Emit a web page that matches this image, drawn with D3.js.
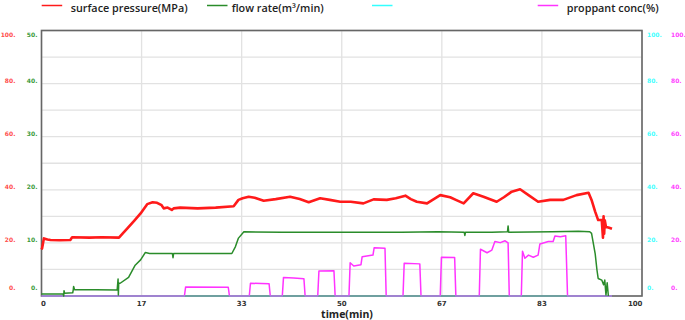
<!DOCTYPE html>
<html><head><meta charset="utf-8">
<script src="https://cdn.jsdelivr.net/npm/d3@7"></script>
<style>
html,body{margin:0;padding:0;background:#fff;}
svg{display:block;}
</style></head>
<body><svg id="c" width="685" height="320"></svg>
<script>
// ---- data ----
const legendLabels = ["surface pressure(MPa)", "flow rate(m³/min)", "", "proppant conc(%)"];
const seriesColors = ["#ff1a1a", "#2a8c2a", "#33ffff", "#ff33ff"];
const labelColors = ["#ff4d4d", "#3a9a3a", "#44ffff", "#ff44ff"];
const xTickLabels = ["0", "17", "33", "50", "67", "83", "100"];
const pressureTicks = ["0.", "20.", "40.", "60.", "80.", "100."];
const flowTicks = ["0.", "10.", "20.", "30.", "40.", "50."];
const cyanTicks = ["0.", "20.", "40.", "60.", "80.", "100."];
const proppantTicks = ["0.", "20.", "40.", "60.", "80.", "100."];
const xTitle = "time(min)";

const pressureTime = [0, 0.1, 0.4, 1.0, 1.5, 3, 4.8, 5.1, 8, 10, 12.9, 13.5, 14.3, 15.5, 16.5, 17.6, 18.5, 19.25, 20.0, 20.35, 21.0, 21.7, 22.0, 23.1, 26, 29, 32.0, 32.8, 33.5, 34.5, 35.5, 37.0, 39, 41.4, 43, 44.5, 46.4, 48, 49.75, 51.5, 53.6, 55.3, 57.5, 59, 60.6, 61.5, 62.5, 64.2, 66.4, 68.05, 69, 70.3, 71.9, 73.6, 75.8, 77, 78.3, 79.7, 81.1, 82.7, 84.7, 86.9, 89.1, 91.1, 91.6, 92.2, 92.7, 93.3, 93.5, 93.6, 93.7, 93.8, 94.0, 94.4, 95.0];
const pressureValue = [17.5, 18, 21.7, 21.3, 21.1, 21.0, 21.1, 22.1, 22.0, 22.1, 22.0, 23.5, 25.5, 28.5, 31.1, 34.6, 35.3, 35.1, 34.2, 33.0, 33.3, 32.4, 33.0, 33.3, 33.0, 33.3, 33.8, 36.2, 36.8, 37.4, 37.0, 35.9, 36.5, 37.4, 36.5, 35.3, 36.8, 36.2, 35.5, 35.5, 34.9, 36.4, 36.2, 36.8, 37.8, 36.5, 35.5, 34.9, 38.0, 37.2, 36.2, 34.9, 38.7, 37.4, 35.5, 37.2, 39.3, 40.2, 38.0, 35.5, 36.2, 36.2, 38.0, 38.9, 36.2, 31.8, 28.6, 28.6, 22, 30, 23.5, 28.5, 26, 25.8, 25.3];

const flowTime = [0, 0.1, 3.6, 3.7, 3.75, 3.85, 5.2, 5.3, 5.35, 5.5, 9, 12.6, 12.75, 12.8, 12.85, 12.9, 13.1, 14.5, 15.6, 16.5, 17.3, 18, 21.8, 21.9, 22.0, 26, 31.7, 32.3, 32.8, 33.7, 40, 50, 60, 66, 70.4, 70.5, 70.6, 75, 77.6, 77.7, 77.8, 85, 89.4, 91.3, 91.6, 92.2, 92.5, 92.7, 93.3, 93.6, 93.8, 94.0, 94.2, 94.4];
const flowValue = [0.3, 0.38, 0.4, 0.0, 1.0, 0.5, 0.6, 1.26, 1.8, 1.2, 1.2, 1.13, 3.2, 0.2, 2.2, 2.4, 2.4, 3.5, 5.8, 6.8, 8.2, 8.0, 8.0, 7.2, 8.0, 8.0, 8.0, 9.3, 10.9, 12.1, 12.0, 12.0, 12.0, 12.1, 12.0, 11.4, 12.0, 12.0, 12.1, 13.2, 12.0, 12.1, 12.2, 12.1, 11.8, 8.0, 4.9, 3.3, 3.0, 2.1, 3.0, 0.2, 2.5, 0];

const cyanTime = [0, 95];
const cyanValue = [0, 0];

const proppantTime = [0, 23.8, 24.0, 31.1, 31.3, 34.6, 34.8, 37.9, 38.1, 40.1, 40.3, 42, 43.7, 43.9, 46.0, 46.2, 48.7, 48.9, 51.2, 51.4, 52.0, 53.2, 53.4, 55.2, 55.4, 57.2, 57.4, 60.2, 60.4, 63.0, 63.2, 66.4, 66.6, 68.8, 69.0, 72.9, 73.1, 74.2, 75.0, 75.5, 76.4, 77.2, 77.7, 77.9, 79.9, 80.1, 80.5, 81.1, 81.9, 82.7, 83.0, 84.4, 85.2, 85.5, 86.4, 87.3, 87.6, 95];
const proppantValue = [0, 0, 3.4, 3.3, 0, 0, 4.8, 4.6, 0, 0, 7.0, 6.8, 6.5, 0, 0, 9.4, 9.5, 0, 0, 12.5, 11.3, 11.8, 14.8, 15.4, 18.2, 18.0, 0, 0, 12.3, 12.1, 0, 0, 14.6, 14.5, 0, 0, 17.6, 16.3, 17.3, 20.5, 20.1, 20.8, 20.0, 0, 0, 16.9, 14.2, 15.4, 14.6, 15.4, 19.6, 20.5, 20.5, 22.6, 22.3, 22.7, 0, 0];

// ---- layout ----
const L = 41.5, R = 642, T = 30.5, B = 296;
const svg = d3.select("#c");
const x = d3.scaleLinear().domain([0, 100]).range([L, R]);
const yP = d3.scaleLinear().domain([0, 100]).range([B, T]);
const yF = d3.scaleLinear().domain([0, 50]).range([B, T]);
const yC = d3.scaleLinear().domain([0, 100]).range([B, T]);
const yPr = d3.scaleLinear().domain([0, 100]).range([B, T]);

// grid
const hg = d3.range(0, 101, 10);
svg.append("g").selectAll("line").data(hg).join("line")
  .attr("x1", L).attr("x2", R).attr("y1", d => yP(d)).attr("y2", d => yP(d))
  .attr("stroke", "#e2e2e2").attr("stroke-width", 1.3);
const vg = d3.range(0, 7).map(i => i * 100 / 6);
svg.append("g").selectAll("line").data(vg).join("line")
  .attr("x1", d => x(d)).attr("x2", d => x(d)).attr("y1", T).attr("y2", B)
  .attr("stroke", "#e2e2e2").attr("stroke-width", 1.3);

// frame
svg.append("rect").attr("x", L).attr("y", T).attr("width", R - L).attr("height", B - T)
  .attr("fill", "none").attr("stroke", "#666").attr("stroke-width", 1.6);

// y labels
function labelY(i, n, scale, v) {
  if (i === n - 1) return T + 6.5;
  if (i === 0) return B - 6.5;
  return scale(v) - 1;
}
function drawYLabels(ticks, scale, step, xPos, anchor, color) {
  svg.append("g").selectAll("text").data(ticks).join("text")
    .attr("x", xPos).attr("y", (d, i) => labelY(i, ticks.length, scale, i * step))
    .attr("text-anchor", anchor).attr("fill", color)
    .attr("font-family", "DejaVu Sans").attr("font-weight", "bold").attr("font-size", "6px")
    .text(d => d);
}
drawYLabels(pressureTicks, yP, 20, 15.5, "end", labelColors[0]);
drawYLabels(flowTicks, yF, 10, 37.5, "end", labelColors[1]);
drawYLabels(cyanTicks, yC, 20, 647, "start", labelColors[2]);
drawYLabels(proppantTicks, yPr, 20, 671, "start", labelColors[3]);

// x labels
svg.append("g").selectAll("text").data(xTickLabels).join("text")
  .attr("x", (d, i) => i === 0 ? L - 0.5 : (i === xTickLabels.length - 1 ? R + 0.5 : x(vg[i])))
  .attr("y", 305.5)
  .attr("text-anchor", (d, i) => i === 0 ? "start" : (i === xTickLabels.length - 1 ? "end" : "middle"))
  .attr("fill", "#333").attr("font-family", "DejaVu Sans").attr("font-weight", "bold").attr("font-size", "7px")
  .text(d => d);

svg.append("text").attr("x", 347).attr("y", 318).attr("text-anchor", "middle")
  .attr("fill", "#222").attr("font-family", "Open Sans").attr("font-weight", "bold").attr("font-size", "10.5px")
  .text(xTitle);

// series
function drawSeries(times, vals, scale, color, width) {
  const data = times.map((t, i) => [t, vals[i]]);
  svg.append("path").datum(data)
    .attr("d", d3.line().x(d => x(d[0])).y(d => scale(d[1])))
    .attr("fill", "none").attr("stroke", color).attr("stroke-width", width)
    .attr("stroke-linejoin", "round");
}
drawSeries(proppantTime, proppantValue, yPr, seriesColors[3], 1.5);
drawSeries(cyanTime, cyanValue, yC, "#5fbfbf", 1);
drawSeries(flowTime, flowValue, yF, seriesColors[1], 1.5);
drawSeries(pressureTime, pressureValue, yP, seriesColors[0], 2.6);

// legend
const legendLineX = [41.7, 207, 372, 537.7];
const legendTextX = [70.7, 231.7, 400, 566.7];
legendLabels.forEach((lab, i) => {
  svg.append("line").attr("x1", legendLineX[i]).attr("x2", legendLineX[i] + 20.5)
    .attr("y1", 5.5).attr("y2", 5.5).attr("stroke", seriesColors[i]).attr("stroke-width", 1.5);
  if (lab) svg.append("text").attr("x", legendTextX[i]).attr("y", 11.5)
    .attr("fill", "#222").attr("font-family", "Open Sans").attr("font-weight", "600").attr("font-size", "10.8px")
    .text(lab);
});
</script></body></html>
